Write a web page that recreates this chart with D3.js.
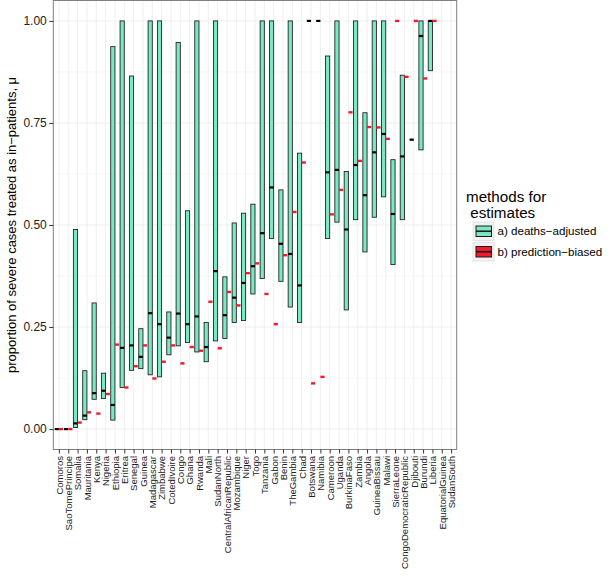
<!doctype html>
<html lang="en">
<head>
<meta charset="utf-8">
<title>severe cases treated as in-patients</title>
<style>
    body { margin: 0; background: #fff; }
    svg { display: block; font-family: "Liberation Sans", Arial, Helvetica, sans-serif; }
    .grid-major { stroke: #ebebeb; stroke-width: 0.8px; }
    .grid-minor { stroke: #f6f6f6; stroke-width: 0.8px; }
    .axis path { display: none; }
    .axis line { stroke: #333; }
    .axis text { fill: #222; }
</style>
</head>
<body>
<svg id="plot" width="615" height="578"></svg>

<script src="https://cdn.jsdelivr.net/npm/d3@7"></script>
<script>
// countries, in plotted order
const countries = ["Comoros", "SaoTomePrincipe", "Somalia", "Mauritania", "Kenya", "Nigeria",
    "Ethiopia", "Eritrea", "Senegal", "Guinea", "Madagascar", "Zimbabwe", "CotedIvoire",
    "Congo", "Ghana", "Rwanda", "Mali", "SudanNorth", "CentralAfricanRepublic", "Mozambique",
    "Niger", "Togo", "Tanzania", "Gabon", "Benin", "TheGambia", "Chad", "Botswana", "Namibia",
    "Cameroon", "Uganda", "BurkinaFaso", "Zambia", "Angola", "GuineaBissau", "Malawi",
    "SierraLeone", "CongoDemocraticRepublic", "Djibouti", "Burundi", "Liberia",
    "EquatorialGuinea", "SudanSouth"];

// a) deaths-adjusted: lower, upper, median
const daLower = [0, 0, 0.004, 0.023, 0.073, 0.075, 0.022, 0.102, 0.144, 0.148, 0.133, 0.128, 0.182,
    0.204, 0.212, 0.189, 0.165, 0.216, 0.222, 0.261, 0.266, 0.331, 0.369, 0.467, 0.362, 0.299, 0.261,
    1.0, 1.0, 0.467, 0.507, 0.292, 0.513, 0.434, 0.519, 0.569, 0.403, 0.513, 0.709, 0.684, 0.878,
    null, null];
const daUpper = [0, 0, 0.489, 0.143, 0.309, 0.137, 0.937, 1.0, 0.865, 0.246, 1.0, 1.0, 0.287,
    0.947, 0.535, 1.0, 0.261, 1.0, 0.373, 0.505, 0.529, 0.551, 1.0, 1.0, 0.586, 1.0, 0.676,
    1.0, 1.0, 0.914, 1.0, 0.631, 1.0, 0.775, 1.0, 1.0, 0.660, 0.867, 0.709, 1.0, 1.0,
    null, null];
const daMedian = [0, 0, 0.014, 0.033, 0.088, 0.094, 0.059, 0.199, 0.205, 0.177, 0.284, 0.257, 0.224,
    0.283, 0.257, 0.276, 0.201, 0.387, 0.279, 0.322, 0.358, 0.399, 0.480, 0.592, 0.454, 0.429, 0.352,
    1.0, 1.0, 0.629, 0.635, 0.489, 0.647, 0.573, 0.678, 0.723, 0.527, 0.668, 0.709, 0.963, 1.0,
    null, null];

// b) prediction-biased: single estimate
const pbValue = [0, 0, 0.016, 0.041, 0.038, 0.086, 0.207, 0.102, 0.154, 0.205, 0.124, 0.165, 0.205,
    0.161, 0.201, 0.192, 0.312, 0.198, 0.336, 0.303, 0.382, 0.406, 0.331, 0.257, 0.426, 0.532, 0.653,
    0.112, 0.128, 0.526, 0.586, 0.776, 0.657, 0.740, 0.739, 0.711, 1.0, 0.863, 1.0, 0.859, 1.0,
    null, null];

const methods = ["a) deaths\u2212adjusted", "b) prediction\u2212biased"];
const yTicks = [0, 0.25, 0.5, 0.75, 1];
const yMinor = [0.125, 0.375, 0.625, 0.875];

const fillDA = "#7ae8c4", fillPB = "#f5192e";

const svg = d3.select("#plot"),
    panel = {left: 53.3, right: 456.7, top: 0.5, bottom: 449.5};

const x = d3.scalePoint()
    .domain(countries)
    .range([panel.left, panel.right])
    .padding(0.6);

const y = d3.scaleLinear()
    .domain([-0.05, 1.05])
    .range([panel.bottom, panel.top]);

const step = x.step(),
    boxW = step * 0.45,
    dodge = step * 0.225;

// grid
const grid = svg.append("g");
grid.selectAll(".grid-minor")
    .data(yMinor)
    .enter().append("line")
    .attr("class", "grid-minor")
    .attr("x1", panel.left).attr("x2", panel.right)
    .attr("y1", d => y(d)).attr("y2", d => y(d));
grid.selectAll(".grid-major.h")
    .data(yTicks)
    .enter().append("line")
    .attr("class", "grid-major h")
    .attr("x1", panel.left).attr("x2", panel.right)
    .attr("y1", d => y(d)).attr("y2", d => y(d));
grid.selectAll(".grid-major.v")
    .data(countries)
    .enter().append("line")
    .attr("class", "grid-major v")
    .attr("y1", panel.top).attr("y2", panel.bottom)
    .attr("x1", d => x(d)).attr("x2", d => x(d));

const rows = countries.map((c, i) => ({
    c: c, lo: daLower[i], hi: daUpper[i], med: daMedian[i], pb: pbValue[i]
}));

// deaths-adjusted crossbars
const da = svg.append("g")
    .selectAll("g")
    .data(rows.filter(d => d.med !== null))
    .enter().append("g");

da.filter(d => d.hi > d.lo)
    .append("rect")
    .attr("x", d => x(d.c) - dodge - boxW / 2)
    .attr("width", boxW)
    .attr("y", d => y(d.hi))
    .attr("height", d => y(d.lo) - y(d.hi))
    .attr("fill", fillDA)
    .attr("stroke", "#1a1a1a")
    .attr("stroke-width", 0.85);

da.append("line")
    .attr("x1", d => x(d.c) - dodge - boxW / 2)
    .attr("x2", d => x(d.c) - dodge + boxW / 2)
    .attr("y1", d => y(d.med))
    .attr("y2", d => y(d.med))
    .attr("stroke", "#000")
    .attr("stroke-width", 2.2);

// prediction-biased marks
svg.append("g")
    .selectAll("line")
    .data(rows.filter(d => d.pb !== null))
    .enter().append("line")
    .attr("x1", d => x(d.c) + dodge - boxW / 2)
    .attr("x2", d => x(d.c) + dodge + boxW / 2)
    .attr("y1", d => y(d.pb))
    .attr("y2", d => y(d.pb))
    .attr("stroke", fillPB)
    .attr("stroke-width", 2.4);

// panel border
svg.append("rect")
    .attr("x", panel.left).attr("y", panel.top)
    .attr("width", panel.right - panel.left)
    .attr("height", panel.bottom - panel.top)
    .attr("fill", "none")
    .attr("stroke", "#7f7f7f")
    .attr("stroke-width", 1);

// axes
svg.append("g")
    .attr("class", "axis axis--y")
    .attr("transform", "translate(" + panel.left + ",0)")
    .call(d3.axisLeft(y).tickValues(yTicks).tickFormat(d3.format(".2f")).tickSize(4).tickPadding(2.5))
    .selectAll("text")
    .style("font-size", "12px");

svg.append("g")
    .attr("class", "axis axis--x")
    .attr("transform", "translate(0," + panel.bottom + ")")
    .call(d3.axisBottom(x).tickSize(4))
    .selectAll("text")
    .attr("transform", "rotate(-90)")
    .attr("x", -6.5)
    .attr("y", 0)
    .attr("dy", "0.35em")
    .style("text-anchor", "end")
    .style("font-size", "9.5px");

svg.append("text")
    .attr("transform", "translate(16," + ((panel.top + panel.bottom) / 2) + ") rotate(-90)")
    .style("text-anchor", "middle")
    .style("font-size", "13px")
    .attr("fill", "#000")
    .text("proportion of severe cases treated as in\u2212patients, \u03bc");

// legend
const legend = svg.append("g").attr("transform", "translate(466,0)");
legend.append("text")
    .attr("x", 0).attr("y", 202)
    .style("font-size", "15.2px")
    .text("methods for");
legend.append("text")
    .attr("x", 0).attr("y", 218)
    .style("font-size", "15.2px")
    .style("white-space", "pre")
    .text(" estimates");

const keys = legend.selectAll(".key")
    .data(methods)
    .enter().append("g")
    .attr("class", "key")
    .attr("transform", (d, i) => "translate(7," + (222 + i * 20.5) + ")");

keys.append("rect")
    .attr("width", 21).attr("height", 18.5)
    .attr("fill", "#f2f2f2")
    .attr("stroke", "#dedede")
    .attr("stroke-width", 0.8);
keys.append("rect")
    .attr("x", 3).attr("y", 4)
    .attr("width", 15.5).attr("height", 10.5)
    .attr("fill", (d, i) => i === 0 ? fillDA : fillPB)
    .attr("stroke", "#1a1a1a")
    .attr("stroke-width", 1);
keys.append("line")
    .attr("x1", 3).attr("x2", 18.5)
    .attr("y1", 9.25).attr("y2", 9.25)
    .attr("stroke", "#1a1a1a")
    .attr("stroke-width", 1.6);
keys.append("text")
    .attr("x", 24.5).attr("y", 9.25)
    .attr("dy", "0.36em")
    .style("font-size", "11.6px")
    .text(d => d);
</script>
</body>
</html>
